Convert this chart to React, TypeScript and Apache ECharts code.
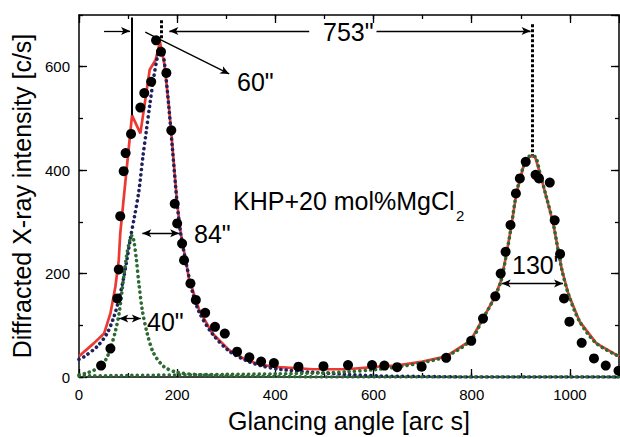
import React, { useEffect, useRef } from 'react';
import * as echarts from 'echarts';

// ---- data ----
const blackX = [45, 64, 78, 81, 84, 91, 95, 106, 125, 133, 147, 157, 167, 178, 188, 195, 200, 210, 214, 227, 238, 257, 277, 297, 322, 347, 371, 397, 447, 498, 548, 597, 622, 648, 698, 748, 799, 823, 848, 859, 869, 879, 890, 898, 910, 930, 937, 959, 969, 980, 988, 999, 1024, 1049, 1073, 1099];
const blackY = [22, 55, 152, 208, 311, 398, 433, 470, 521, 549, 571, 651, 629, 588, 477, 335, 297, 258, 226, 181, 149, 124, 97, 84, 49, 38, 30, 27, 20, 21, 23, 23, 22, 19, 20, 37, 70, 113, 156, 200, 242, 294, 355, 384, 416, 391, 384, 376, 303, 238, 152, 107, 66, 36, 22, 12];

const redX = [0, 30, 51, 64, 74, 81, 84, 90, 108, 125, 144, 156, 165, 174, 183, 190, 200, 207, 217, 224, 245, 272, 306, 340, 374, 408, 476, 544, 612, 646, 700, 748, 798, 823, 847, 860, 871, 881, 891, 905, 918, 929, 939, 952, 966, 983, 997, 1020, 1054, 1100];
const redY = [40, 65, 84, 123, 174, 226, 277, 335, 506, 471, 594, 613, 648, 605, 525, 450, 335, 280, 228, 190, 129, 84, 52, 33, 23, 19, 15, 15, 20, 22, 30, 40, 71, 113, 155, 187, 239, 294, 355, 406, 427, 426, 394, 348, 297, 210, 160, 107, 65, 40];

const navyX = [0, 10, 37, 57, 71, 81, 90, 98, 105, 113, 122, 130, 137, 144, 152, 160, 166, 170, 175, 183, 190, 200, 207, 217, 231, 245, 272, 306, 340, 374, 408, 476, 544, 612, 700, 800, 900, 1000, 1100];
const navyY = [34, 39, 59, 84, 116, 149, 187, 229, 270, 310, 360, 425, 475, 525, 578, 620, 638, 632, 600, 522, 445, 335, 278, 226, 165, 125, 83, 50, 32, 21, 15, 9, 5, 2, 1, 0, 0, 0, 0];

const greenLeftX = [0, 13, 30, 47, 57, 65, 74, 82, 92, 98, 104, 108, 112, 117, 122, 129, 139, 152, 173, 200, 250, 300, 400, 500, 1100];
const greenLeftY = [4, 7, 13, 23, 38, 58, 88, 125, 200, 240, 266, 274, 262, 226, 181, 129, 84, 46, 20, 9, 4, 2, 1, 0, 0];

const greenRightX = [0, 100, 200, 300, 400, 500, 545, 600, 646, 700, 748, 798, 823, 847, 860, 871, 881, 891, 905, 918, 929, 939, 952, 966, 983, 997, 1020, 1054, 1100];
const greenRightY = [2, 3, 4, 5, 6, 8, 10, 14, 19, 28, 40, 71, 113, 155, 187, 239, 294, 355, 406, 427, 426, 394, 348, 297, 210, 160, 107, 65, 40];

const xMax = 1100;
const yMax = 700;
const xTitle = 'Glancing angle [arc s]';
const yTitle = 'Diffracted X-ray intensity [c/s]';
const sampleLabel = 'KHP+20 mol%MgCl';
const sampleSub = '2';

const FONT = "'Liberation Sans', Arial, Helvetica, sans-serif";

const zip = (xs: number[], ys: number[]) => xs.map((x, i) => [x, ys[i]]);
const plain = (v: number) => String(v);

function makeX(position: 'top' | 'bottom', interval: number, len: number, main: boolean) {
  return {
    type: 'value',
    position,
    min: 0,
    max: xMax,
    interval,
    axisLine: { show: main, onZero: false, lineStyle: { color: '#000', width: 1.5 } },
    axisTick: { show: true, inside: true, length: len, lineStyle: { color: '#000', width: 1.3 } },
    axisLabel: main && position === 'bottom'
      ? { show: true, fontSize: 15, color: '#000', margin: 10, fontFamily: FONT, showMaxLabel: false, formatter: plain }
      : { show: false },
    splitLine: { show: false },
    ...(main && position === 'bottom'
      ? { name: xTitle, nameLocation: 'middle', nameGap: 31, nameTextStyle: { fontSize: 25, color: '#000', fontFamily: FONT } }
      : {}),
  };
}

function makeY(position: 'left' | 'right', interval: number, len: number, main: boolean) {
  return {
    type: 'value',
    position,
    min: 0,
    max: yMax,
    interval,
    axisLine: { show: main, onZero: false, lineStyle: { color: '#000', width: 1.5 } },
    axisTick: { show: true, inside: true, length: len, lineStyle: { color: '#000', width: 1.3 } },
    axisLabel: main && position === 'left'
      ? { show: true, fontSize: 15, color: '#000', margin: 9, fontFamily: FONT, showMaxLabel: false, formatter: plain }
      : { show: false },
    splitLine: { show: false },
    ...(main && position === 'left'
      ? { name: yTitle, nameLocation: 'middle', nameGap: 44, nameRotate: 90, nameTextStyle: { fontSize: 25, color: '#000', fontFamily: FONT } }
      : {}),
  };
}

const dotted = (color: string) => ({ color, width: 3.6, type: [0.1, 5.2], cap: 'round' });

const arrowSize = [6, 9];
const solidMarks = [
  [{ coord: [107, 695], symbol: 'none', lineStyle: { width: 2 } }, { coord: [107, 506], symbol: 'none' }],
  [{ coord: [51, 669], symbol: 'none' }, { coord: [104, 669], symbol: 'arrow' }],
  [{ coord: [469, 669], symbol: 'none' }, { coord: [184, 669], symbol: 'arrow' }],
  [{ coord: [606, 669], symbol: 'none' }, { coord: [920, 669], symbol: 'arrow' }],
  [{ coord: [135, 667], symbol: 'none' }, { coord: [306, 586], symbol: 'arrow' }],
  [{ coord: [129, 278], symbol: 'arrow' }, { coord: [204, 278], symbol: 'arrow' }],
  [{ coord: [82, 113], symbol: 'arrow' }, { coord: [126, 113], symbol: 'arrow' }],
  [{ coord: [861, 181], symbol: 'arrow' }, { coord: [986, 181], symbol: 'arrow' }],
];
const dottedMarks = [
  [{ coord: [168, 690] }, { coord: [168, 651] }],
  [{ coord: [924, 682] }, { coord: [924, 429] }],
];

const annotations = [
  { text: '60"', x: 237, y: 82 },
  { text: '753"', x: 323, y: 32 },
  { text: '84"', x: 194, y: 234 },
  { text: '40"', x: 147, y: 322 },
  { text: '130"', x: 512, y: 265 },
];

export default function App() {
  const ref = useRef<HTMLDivElement>(null);
  useEffect(() => {
    const chart = echarts.init(ref.current!, null, { renderer: 'svg' });
    const option: any = {
      animation: false,
      backgroundColor: '#fff',
      grid: { left: 79, right: 1, top: 15, bottom: 60, containLabel: false, outerBoundsMode: 'none' },
      xAxis: [makeX('bottom', 200, 8, true), makeX('bottom', 100, 4, false), makeX('top', 200, 8, true), makeX('top', 100, 4, false)],
      yAxis: [makeY('left', 200, 8, true), makeY('left', 100, 4, false), makeY('right', 200, 8, true), makeY('right', 100, 4, false)],
      series: [
        { type: 'line', data: zip(redX, redY), showSymbol: false, symbol: 'none', lineStyle: { color: '#ec3a32', width: 2.7 }, z: 2 },
        { type: 'line', data: zip(navyX, navyY), showSymbol: false, symbol: 'none', smooth: 0.3, lineStyle: dotted('#1f215e'), z: 3 },
        { type: 'line', data: zip(greenLeftX, greenLeftY), showSymbol: false, symbol: 'none', smooth: 0.3, lineStyle: dotted('#2c6a33'), z: 3 },
        { type: 'line', data: zip(greenRightX, greenRightY), showSymbol: false, symbol: 'none', smooth: 0.3, lineStyle: dotted('#2c6a33'), z: 3 },
        { type: 'scatter', data: zip(blackX, blackY), symbol: 'circle', symbolSize: 10, itemStyle: { color: '#000', opacity: 1 }, z: 4 },
        {
          type: 'line', data: [], z: 5,
          markLine: {
            silent: true, animation: false, symbolSize: arrowSize, label: { show: false },
            lineStyle: { color: '#000', width: 1.3, type: 'solid' },
            emphasis: { disabled: true },
            data: solidMarks,
          },
        },
        {
          type: 'line', data: [], z: 5,
          markLine: {
            silent: true, animation: false, symbol: 'none', label: { show: false },
            lineStyle: { color: '#000', width: 3, type: [3, 2] },
            emphasis: { disabled: true },
            data: dottedMarks,
          },
        },
      ],
      graphic: [
        ...annotations.map((a) => ({
          type: 'text', x: a.x, y: a.y, silent: true,
          style: { text: a.text, fontSize: 25, fontFamily: FONT, fill: '#000', align: 'left', verticalAlign: 'middle' },
        })),
        {
          type: 'text', x: 233, y: 201, silent: true,
          style: { text: sampleLabel, fontSize: 25, fontFamily: FONT, fill: '#000', align: 'left', verticalAlign: 'middle' },
        },
        {
          type: 'text', x: 456, y: 215, silent: true,
          style: { text: sampleSub, fontSize: 15, fontFamily: FONT, fill: '#000', align: 'left', verticalAlign: 'middle' },
        },
      ],
    };
    chart.setOption(option);
    return () => chart.dispose();
  }, []);
  return <div ref={ref} style={{ position: 'absolute', left: 0, top: 0, width: 620, height: 437, background: '#fff' }} />;
}
